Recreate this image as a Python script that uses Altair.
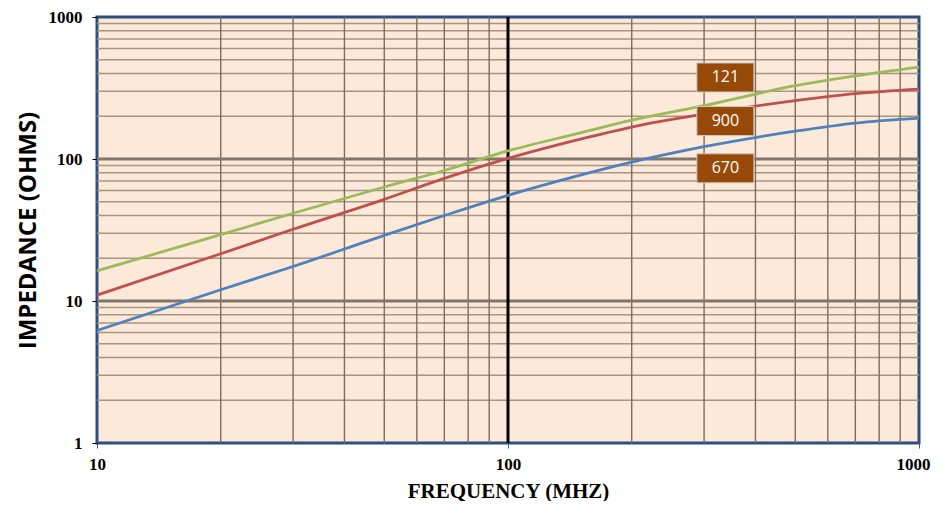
import altair as alt
import pandas as pd

# ---- data ----
freq = [10, 20, 30, 50, 70, 100, 150, 200, 300, 500, 700, 1000]
z_121 = [16.3, 29.3, 41.5, 63.5, 83, 114, 153, 188, 238, 328, 385, 444]
z_900 = [11.0, 21.5, 32, 52, 73, 101, 138, 168, 207, 258, 289, 311]
z_670 = [6.2, 12, 17.5, 29, 40, 55.5, 77, 95, 122, 157, 179, 194]

series_names = ["121", "900", "670"]
series_colors = ["#9BBB59", "#C0504D", "#4F81BD"]

label_text = ["121", "900", "670"]
label_freq = [338, 338, 338]
label_imp = [375, 185, 86]

x_ticks = [10, 100, 1000]
y_ticks = [1, 10, 100, 1000]
x_minor = [20, 30, 40, 50, 60, 70, 80, 90, 200, 300, 400, 500, 600, 700, 800, 900]
y_minor = [2, 3, 4, 5, 6, 7, 8, 9, 20, 30, 40, 50, 60, 70, 80, 90, 200, 300, 400, 500, 600, 700, 800, 900]
y_major = [10, 100]
x_major = [100]

# ---- tables ----
rows = []
for name, vals in zip(series_names, [z_121, z_900, z_670]):
    for f, v in zip(freq, vals):
        rows.append({"series": name, "freq": f, "imp": v})
df = pd.DataFrame(rows)
labels_df = pd.DataFrame({"text": label_text, "freq": label_freq, "imp": label_imp})

xs = alt.Scale(type="log", domain=[10, 1000], nice=False)
ys = alt.Scale(type="log", domain=[1, 1000], nice=False)

x_axis = alt.Axis(
    title="FREQUENCY (MHZ)", values=x_ticks, format="d", grid=False,
    domain=False, tickSize=5, tickColor="#555555", labelPadding=8,
    labelFlush=False, labelOverlap=False,
    labelOffset={"condition": {"test": "datum.value == 1000", "value": -6}, "value": 0},
    labelFont="Liberation Serif", labelFontWeight="bold", labelFontSize=17,
    labelColor="#000000", titleFont="Liberation Serif", titleFontWeight="bold",
    titleFontSize=21, titleColor="#000000", titlePadding=8,
)
y_axis = alt.Axis(
    title="IMPEDANCE (OHMS)", values=y_ticks, format="d", grid=False,
    domain=False, tickSize=5, tickColor="#000000", labelPadding=10,
    labelFlush=False, labelOverlap=False,
    labelFont="Liberation Serif", labelFontWeight="bold", labelFontSize=17,
    labelColor="#000000", titleFont="Open Sans", titleFontWeight="bold",
    titleFontSize=24, titleColor="#000000", titlePadding=8,
)

vminor = alt.Chart(pd.DataFrame({"v": x_minor})).mark_rule(
    color="#7d6d5c", strokeWidth=1.4
).encode(x=alt.X("v:Q", scale=xs, axis=x_axis))

hminor = alt.Chart(pd.DataFrame({"v": y_minor})).mark_rule(
    color="#a8957f", strokeWidth=1.5
).encode(y=alt.Y("v:Q", scale=ys, axis=y_axis))

hmajor = alt.Chart(pd.DataFrame({"v": y_major})).mark_rule(
    color="#827569", strokeWidth=3
).encode(y=alt.Y("v:Q", scale=ys, axis=y_axis))

vmajor = alt.Chart(pd.DataFrame({"v": x_major})).mark_rule(
    color="#000000", strokeWidth=3
).encode(x=alt.X("v:Q", scale=xs, axis=x_axis))

lines = alt.Chart(df).mark_line(strokeWidth=2.8, interpolate="monotone").encode(
    x=alt.X("freq:Q", scale=xs, axis=x_axis),
    y=alt.Y("imp:Q", scale=ys, axis=y_axis),
    color=alt.Color("series:N", scale=alt.Scale(domain=series_names, range=series_colors), legend=None),
    detail="series:N",
)

boxes = alt.Chart(labels_df).mark_rect(
    width=57, height=29, fill="#984807", stroke="#c8c8c8", strokeWidth=1
).encode(
    x=alt.X("freq:Q", scale=xs, axis=x_axis),
    y=alt.Y("imp:Q", scale=ys, axis=y_axis),
)

texts = alt.Chart(labels_df).mark_text(
    font="Open Sans", fontSize=16, color="#ffffff", align="center", baseline="middle"
).encode(
    x=alt.X("freq:Q", scale=xs, axis=x_axis),
    y=alt.Y("imp:Q", scale=ys, axis=y_axis),
    text="text:N",
)

chart = alt.layer(hminor, vminor, hmajor, vmajor, lines, boxes, texts).properties(
    width=822,
    height=426,
    autosize=alt.AutoSizeParams(type="none"),
    padding={"left": 89, "top": 9, "right": 13, "bottom": 58},
    background="#ffffff",
).configure_view(
    fill="#FDE9D9", stroke="#2C4F82", strokeWidth=3
)

chart.save("out.html", embed_options={"renderer": "svg", "actions": False})
